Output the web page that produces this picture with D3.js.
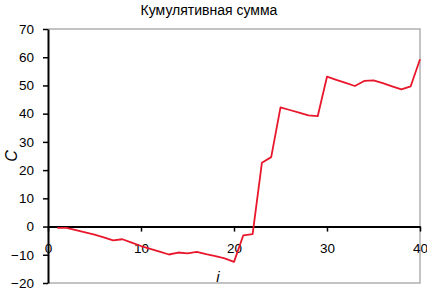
<!DOCTYPE html>
<html>
<head>
<meta charset="utf-8">
<script src="https://cdn.jsdelivr.net/npm/d3@7"></script>
<style>
  body { margin: 0; background: #fff; }
  text { font-family: "Liberation Sans", Arial, sans-serif; }
</style>
</head>
<body>
<div id="chart"></div>
<script>
// cumulative sum C over index i
var iValues = d3.range(1, 41);
var cValues = [-0.5, -0.5, -1.3, -2.1, -2.9, -3.8, -4.9, -4.5, -5.7, -6.9,
               -7.9, -8.9, -9.9, -9.2, -9.5, -9.0, -9.8, -10.5, -11.3, -12.5,
               -3.1, -2.7, 22.6, 24.6, 42.2, 41.3, 40.4, 39.4, 39.1, 53.1,
               52.0, 50.9, 49.8, 51.6, 51.8, 50.8, 49.7, 48.6, 49.7, 59.3];
var xTicks = [0, 10, 20, 30, 40];
var yTicks = [-20, -10, 0, 10, 20, 30, 40, 50, 60, 70];
var title = "Кумулятивная сумма";

var width = 427, height = 290;
var margin = {top: 29, right: 7, bottom: 7, left: 48};

var svg = d3.select("#chart").append("svg")
  .attr("width", width)
  .attr("height", height);

var x = d3.scaleLinear().domain([0, 40]).range([margin.left, width - margin.right]);
var y = d3.scaleLinear().domain([-20, 70]).range([height - margin.bottom, margin.top]);

// plot area border (grey, top/right/bottom)
svg.append("path")
  .attr("d", `M${x(0)},${y(70)}H${x(40)}V${y(-20)}H${x(0)}`)
  .attr("fill", "none")
  .attr("stroke", "#b0b0b0")
  .attr("stroke-width", 1.5);

// y axis
var yAxis = svg.append("g")
  .attr("transform", `translate(${x(0)},0)`)
  .call(d3.axisLeft(y).tickValues(yTicks).tickSize(5).tickSizeOuter(0).tickPadding(9));
yAxis.select(".domain").attr("stroke", "#000").attr("stroke-width", 2);
yAxis.selectAll(".tick line").attr("stroke", "#000").attr("stroke-width", 1.5);
yAxis.selectAll(".tick text").attr("font-size", 13.5).attr("fill", "#000");

// x axis on zero line
var xAxis = svg.append("g")
  .attr("transform", `translate(0,${y(0)})`)
  .call(d3.axisBottom(x).tickValues(xTicks).tickSize(5).tickSizeOuter(0).tickPadding(12));
xAxis.select(".domain").attr("stroke", "#000").attr("stroke-width", 2);
xAxis.selectAll(".tick line").attr("stroke", "#000").attr("stroke-width", 1.5);
xAxis.selectAll(".tick text").attr("font-size", 13.5).attr("fill", "#000");

// line
var line = d3.line()
  .x(function(d, k) { return x(iValues[k]); })
  .y(function(d) { return y(d); });

svg.append("path")
  .datum(cValues)
  .attr("d", line)
  .attr("fill", "none")
  .attr("stroke", "#e8172c")
  .attr("stroke-width", 1.8)
  .attr("stroke-linejoin", "round");

// title
svg.append("text")
  .attr("x", 209)
  .attr("y", 15)
  .attr("text-anchor", "middle")
  .attr("font-size", 14)
  .text(title);

// axis labels
svg.append("text")
  .attr("transform", `translate(17,${y(25)}) rotate(-90)`)
  .attr("text-anchor", "middle")
  .attr("font-size", 16)
  .attr("font-style", "italic")
  .text("C");

svg.append("text")
  .attr("x", 218)
  .attr("y", 282)
  .attr("text-anchor", "middle")
  .attr("font-size", 15)
  .attr("font-style", "italic")
  .text("i");
</script>
</body>
</html>
